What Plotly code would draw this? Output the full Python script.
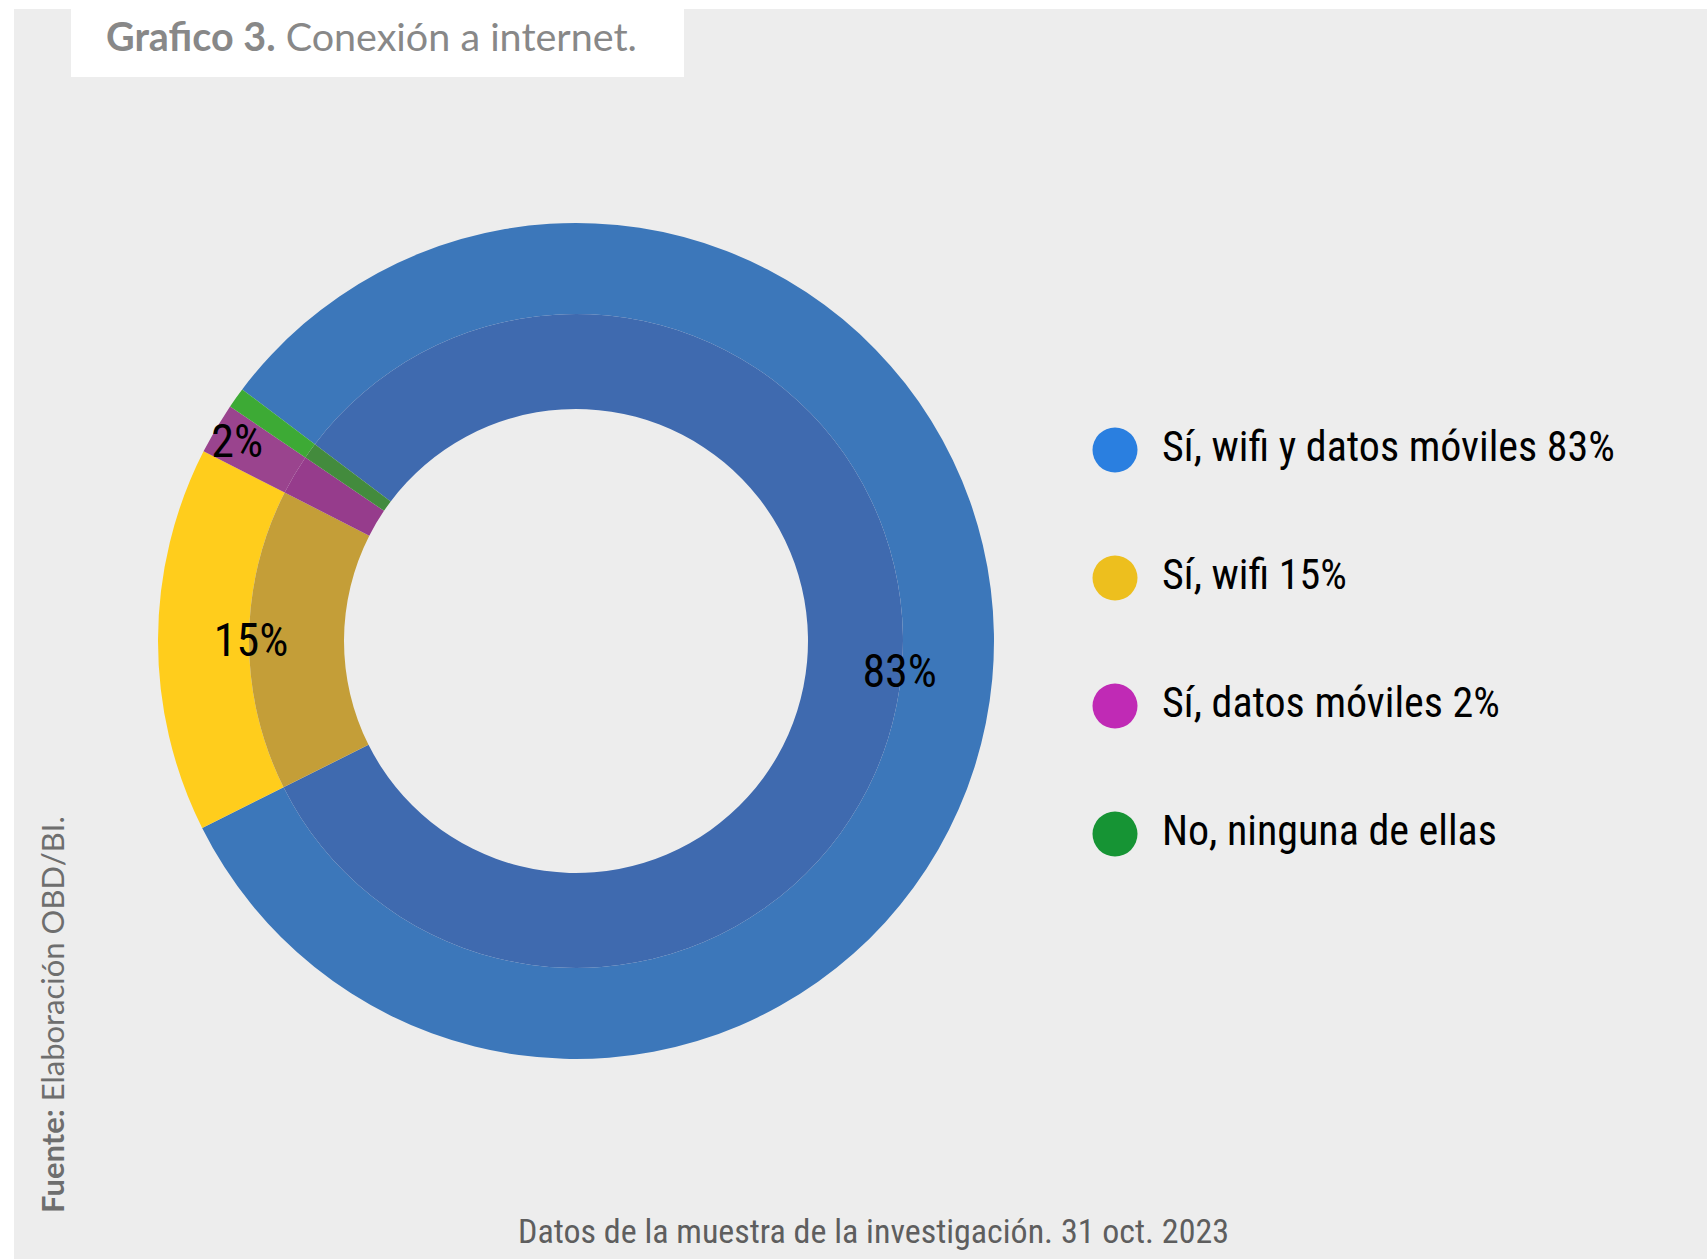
import plotly.graph_objects as go

# ---------------- data ----------------
categories = ["Sí, wifi y datos móviles", "Sí, wifi", "Sí, datos móviles", "No, ninguna de ellas"]
values = [83, 15, 2, 0.8]
slice_labels = ["83%", "15%", "2%", ""]
legend_texts = ["Sí, wifi y datos móviles 83%", "Sí, wifi 15%", "Sí, datos móviles 2%", "No, ninguna de ellas"]

outer_colors = ["#3C77BA", "#FFCD1C", "#9A448E", "#3DAA35"]
inner_colors = ["#3F6AAF", "#C49E38", "#963C8C", "#438B3D"]
legend_colors = ["#2A7FE0", "#EDBF1E", "#C02AB5", "#169434"]

W, H = 1707, 1259
def fx(px): return px / W
def fy(py): return 1 - py / H

COND = "Liberation Sans Narrow, Arial Narrow, Roboto Condensed, Roboto, sans-serif"
AVN = "Lato, Open Sans, sans-serif"

cx, cy, R_out, R_mid, R_in = 576, 641, 418, 327, 232
rot = 307

dom_out = dict(x=[fx(cx - R_out), fx(cx + R_out)], y=[fy(cy + R_out), fy(cy - R_out)])
dom_mid = dict(x=[fx(cx - R_mid), fx(cx + R_mid)], y=[fy(cy + R_mid), fy(cy - R_mid)])

fig = go.Figure()

# outer face ring
fig.add_trace(go.Pie(
    labels=categories, values=values, sort=False, direction="clockwise", rotation=rot,
    hole=R_mid / R_out, marker=dict(colors=outer_colors, line=dict(width=0)),
    textinfo="none", showlegend=False, hoverinfo="label+percent", domain=dom_out,
))
# inner darker band
fig.add_trace(go.Pie(
    labels=categories, values=values, sort=False, direction="clockwise", rotation=rot,
    hole=R_in / R_mid, marker=dict(colors=inner_colors, line=dict(width=0)),
    textinfo="none", showlegend=False, hoverinfo="skip", domain=dom_mid,
))
# labels layer
fig.add_trace(go.Pie(
    labels=categories, values=values, sort=False, direction="clockwise", rotation=rot,
    hole=R_in / R_out, marker=dict(colors=["rgba(0,0,0,0)"] * 4, line=dict(width=0)),
    text=slice_labels, textinfo="text", textposition="inside",
    insidetextorientation="horizontal",
    textfont=dict(family=COND, size=46, color="#000000"),
    showlegend=False, hoverinfo="skip", domain=dom_out,
))

# custom legend
fig.add_trace(go.Scatter(
    x=[23] * 4, y=categories, mode="markers",
    marker=dict(size=45, color=legend_colors, line=dict(width=0)),
    showlegend=False, hoverinfo="skip", xaxis="x", yaxis="y",
))
fig.add_trace(go.Scatter(
    x=[70] * 4, y=categories, mode="text", text=legend_texts,
    textposition="middle right",
    textfont=dict(family=COND, size=42, color="#000000"),
    showlegend=False, hoverinfo="skip", xaxis="x", yaxis="y",
))

fig.update_layout(
    width=W, height=H,
    margin=dict(l=0, r=0, t=0, b=0),
    paper_bgcolor="#FFFFFF", plot_bgcolor="rgba(0,0,0,0)",
    uniformtext=dict(minsize=46, mode="show"),
    xaxis=dict(domain=[fx(1092), 1], range=[0, W - 1092], visible=False, fixedrange=True),
    yaxis=dict(domain=[fy(898), fy(386)], type="category", categoryarray=categories,
               range=[3.5, -0.5], visible=False, fixedrange=True),
    shapes=[
        dict(type="rect", xref="paper", yref="paper", x0=fx(14), x1=1, y0=0, y1=fy(9),
             fillcolor="#EDEDED", line=dict(width=0), layer="below"),
        dict(type="rect", xref="paper", yref="paper", x0=fx(71), x1=fx(684), y0=fy(77), y1=fy(9),
             fillcolor="#FFFFFF", line=dict(width=0), layer="below"),
    ],
    annotations=[
        dict(text="<b>Grafico 3.</b> Conexión a internet.", xref="paper", yref="paper",
             x=fx(104), y=fy(36), xanchor="left", yanchor="middle", showarrow=False,
             font=dict(family=AVN, size=39.5, color="#888888")),
        dict(text="Datos de la muestra de la investigación. 31 oct. 2023", xref="paper", yref="paper",
             x=fx(873), y=fy(1231), xanchor="center", yanchor="middle", showarrow=False,
             font=dict(family=COND, size=34, color="#5E5E5E")),
        dict(text="<b>Fuente:</b> Elaboración OBD/BI.", xref="paper", yref="paper",
             x=fx(52), y=fy(1015), xanchor="center", yanchor="middle", showarrow=False,
             textangle=-90, font=dict(family=AVN, size=31, color="#6E6E6E")),
    ],
)

fig.write_html("out.html", config={"displayModeBar": False},
               post_script="document.body.style.margin='0';")
